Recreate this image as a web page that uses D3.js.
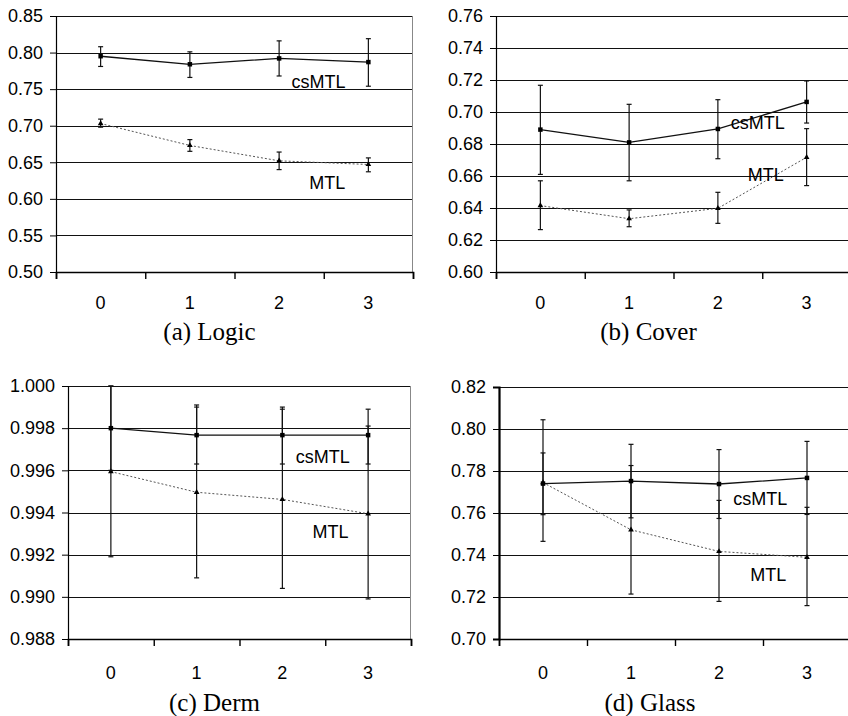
<!DOCTYPE html>
<html lang="en">
<head>
<meta charset="utf-8">
<title>csMTL vs MTL</title>
<script src="https://cdn.jsdelivr.net/npm/d3@7"></script>
<style>
  body { margin: 0; background: #fff; }
  .tick text, .xlab { font-family: "Liberation Sans", Arial, sans-serif; font-size: 18px; fill: #000; }
  .serieslabel { font-family: "Liberation Sans", Arial, sans-serif; font-size: 18px; fill: #000; }
  .caption { font-family: "Liberation Serif", "Times New Roman", serif; font-size: 25px; fill: #000; }
</style>
</head>
<body>
<div id="chart"></div>
<script>
// x categories shared by all four panels
var categories = ["0", "1", "2", "3"];

// (a) Logic
var logicTicks = [0.50, 0.55, 0.60, 0.65, 0.70, 0.75, 0.80, 0.85];
var logicCs = [0.795, 0.784, 0.792, 0.787];
var logicCsLo = [0.781, 0.766, 0.768, 0.754];
var logicCsHi = [0.808, 0.801, 0.816, 0.819];
var logicMtl = [0.703, 0.673, 0.652, 0.647];
var logicMtlLo = [0.698, 0.665, 0.640, 0.637];
var logicMtlHi = [0.709, 0.681, 0.664, 0.656];

// (b) Cover
var coverTicks = [0.60, 0.62, 0.64, 0.66, 0.68, 0.70, 0.72, 0.74, 0.76];
var coverCs = [0.689, 0.681, 0.6894, 0.7063];
var coverCsLo = [0.661, 0.657, 0.6708, 0.6931];
var coverCsHi = [0.7167, 0.7048, 0.7077, 0.7194];
var coverMtl = [0.6415, 0.6333, 0.6398, 0.6717];
var coverMtlLo = [0.6265, 0.6283, 0.6304, 0.654];
var coverMtlHi = [0.657, 0.6388, 0.6498, 0.6896];

// (c) Derm
var dermTicks = [0.988, 0.990, 0.992, 0.994, 0.996, 0.998, 1.000];
var dermCs = [0.998, 0.99767, 0.99767, 0.99767];
var dermCsLo = [0.9960, 0.9963, 0.9963, 0.9963];
var dermCsHi = [1.000, 0.9990, 0.9990, 0.9981];
var dermMtl = [0.99594, 0.99496, 0.99462, 0.99394];
var dermMtlLo = [0.9919, 0.9909, 0.9904, 0.9899];
var dermMtlHi = [1.000, 0.9991, 0.9989, 0.9989];

// (d) Glass
var glassTicks = [0.70, 0.72, 0.74, 0.76, 0.78, 0.80, 0.82];
var glassCs = [0.774, 0.7752, 0.7738, 0.7767];
var glassCsLo = [0.7592, 0.7577, 0.7574, 0.7593];
var glassCsHi = [0.7886, 0.7927, 0.7902, 0.7941];
var glassMtl = [0.7745, 0.752, 0.7417, 0.7389];
var glassMtlLo = [0.7465, 0.7214, 0.7179, 0.7159];
var glassMtlHi = [0.8044, 0.7826, 0.766, 0.7627];

var captions = ["(a) Logic", "(b) Cover", "(c) Derm", "(d) Glass"];
var seriesNames = ["csMTL", "MTL"];

// layout of each panel (px) and where its two series labels sit
var panels = [
  {left: 56, top: 16, width: 357, height: 256, fmt: ".2f", tickY: 37, capY: 68,
   ticks: logicTicks, cs: [logicCs, logicCsLo, logicCsHi], mtl: [logicMtl, logicMtlLo, logicMtlHi],
   csLab: [2.94, 0.7598], mtlLab: [3.04, 0.6217], caption: captions[0]},
  {left: 496, top: 16, width: 355, height: 256, fmt: ".2f", tickY: 37, capY: 68,
   ticks: coverTicks, cs: [coverCs, coverCsLo, coverCsHi], mtl: [coverMtl, coverMtlLo, coverMtlHi],
   csLab: [2.95, 0.6932], mtlLab: [3.04, 0.6611], caption: captions[1]},
  {left: 68, top: 386, width: 343, height: 253, fmt: ".3f", tickY: 40, capY: 72,
   ticks: dermTicks, cs: [dermCs, dermCsLo, dermCsHi], mtl: [dermMtl, dermMtlLo, dermMtlHi],
   csLab: [2.97, 0.99665], mtlLab: [3.06, 0.99308], caption: captions[2]},
  {left: 499, top: 387, width: 352, height: 252, fmt: ".2f", tickY: 40, capY: 72,
   ticks: glassTicks, cs: [glassCs, glassCsLo, glassCsHi], mtl: [glassMtl, glassMtlLo, glassMtlHi],
   csLab: [2.97, 0.767], mtlLab: [3.06, 0.7308], caption: captions[3]}
];

var svg = d3.select("#chart").append("svg")
    .attr("width", 848)
    .attr("height", 716);

panels.forEach(function(p, k) {
  var g = svg.append("g").attr("transform", "translate(" + p.left + "," + p.top + ")");

  var x = d3.scaleBand().domain(categories).range([0, p.width]).padding(0);
  var xPos = d3.scaleLinear().domain([0, categories.length]).range([0, p.width]);
  var y = d3.scaleLinear().domain(d3.extent(p.ticks)).range([p.height, 0]);
  var cx = function(i) { return x(categories[i]) + x.bandwidth() / 2; };

  // gridlines
  g.selectAll(".grid").data(p.ticks.slice(1))
    .enter().append("line")
      .attr("x1", 0).attr("x2", p.width)
      .attr("y1", function(d) { return Math.round(y(d)) + 0.5; })
      .attr("y2", function(d) { return Math.round(y(d)) + 0.5; })
      .attr("stroke", "#111").attr("stroke-width", 1);

  // right border
  g.append("line")
    .attr("x1", p.width - 0.5).attr("x2", p.width - 0.5)
    .attr("y1", 0).attr("y2", p.height)
    .attr("stroke", "#888");

  // y axis
  var yAxis = g.append("g")
    .call(d3.axisLeft(y).tickValues(p.ticks).tickFormat(d3.format(p.fmt)).tickSize(6).tickPadding(7));
  yAxis.select(".domain").attr("stroke", "#000").attr("stroke-width", k === 3 ? 2.2 : 1.2);

  // x axis: ticks on category boundaries, labels at band centres
  var xAxis = g.append("g")
    .attr("transform", "translate(0," + p.height + ")")
    .call(d3.axisBottom(xPos).tickValues(d3.range(categories.length + 1)).tickSize(7).tickFormat(""));
  xAxis.select(".domain").attr("stroke", "#000").attr("stroke-width", 1.6);
  xAxis.selectAll(".tick line").attr("stroke", "#000").attr("stroke-width", 1.4);

  g.selectAll(".xlab").data(categories)
    .enter().append("text")
      .attr("class", "xlab")
      .attr("x", function(d, i) { return cx(i); })
      .attr("y", p.height + p.tickY)
      .attr("text-anchor", "middle")
      .text(function(d) { return d; });

  // caption
  g.append("text")
    .attr("class", "caption")
    .attr("x", p.width / 2 - 25)
    .attr("y", p.height + p.capY)
    .attr("text-anchor", "middle")
    .text(p.caption);

  function drawSeries(s, dashed, marker) {
    var vals = s[0], lo = s[1], hi = s[2];
    var line = d3.line()
      .x(function(d, i) { return cx(i); })
      .y(function(d) { return y(d); });
    g.append("path")
      .datum(vals)
      .attr("fill", "none")
      .attr("stroke", dashed ? "#555" : "#111")
      .attr("stroke-width", dashed ? 1 : 1.3)
      .attr("stroke-dasharray", dashed ? "2,2" : null)
      .attr("d", line);

    var eb = g.selectAll(null).data(vals).enter().append("g");
    eb.append("line")
      .attr("x1", function(d, i) { return cx(i); })
      .attr("x2", function(d, i) { return cx(i); })
      .attr("y1", function(d, i) { return y(hi[i]); })
      .attr("y2", function(d, i) { return y(lo[i]); })
      .attr("stroke", "#111").attr("stroke-width", 1.2);
    [hi, lo].forEach(function(arr) {
      eb.append("line")
        .attr("x1", function(d, i) { return cx(i) - 2.5; })
        .attr("x2", function(d, i) { return cx(i) + 2.5; })
        .attr("y1", function(d, i) { return y(arr[i]); })
        .attr("y2", function(d, i) { return y(arr[i]); })
        .attr("stroke", "#111").attr("stroke-width", 1.2);
    });
    eb.append("path")
      .attr("d", d3.symbol().type(marker).size(marker === d3.symbolSquare ? 20 : 14))
      .attr("transform", function(d, i) { return "translate(" + cx(i) + "," + y(d) + ")"; })
      .attr("fill", "#000");
  }

  drawSeries(p.mtl, true, d3.symbolTriangle);
  drawSeries(p.cs, false, d3.symbolSquare);

  g.append("text")
    .attr("class", "serieslabel")
    .attr("x", xPos(p.csLab[0])).attr("y", y(p.csLab[1]))
    .attr("dy", "0.35em").attr("text-anchor", "middle")
    .text(seriesNames[0]);
  g.append("text")
    .attr("class", "serieslabel")
    .attr("x", xPos(p.mtlLab[0])).attr("y", y(p.mtlLab[1]))
    .attr("dy", "0.35em").attr("text-anchor", "middle")
    .text(seriesNames[1]);
});
</script>
</body>
</html>
